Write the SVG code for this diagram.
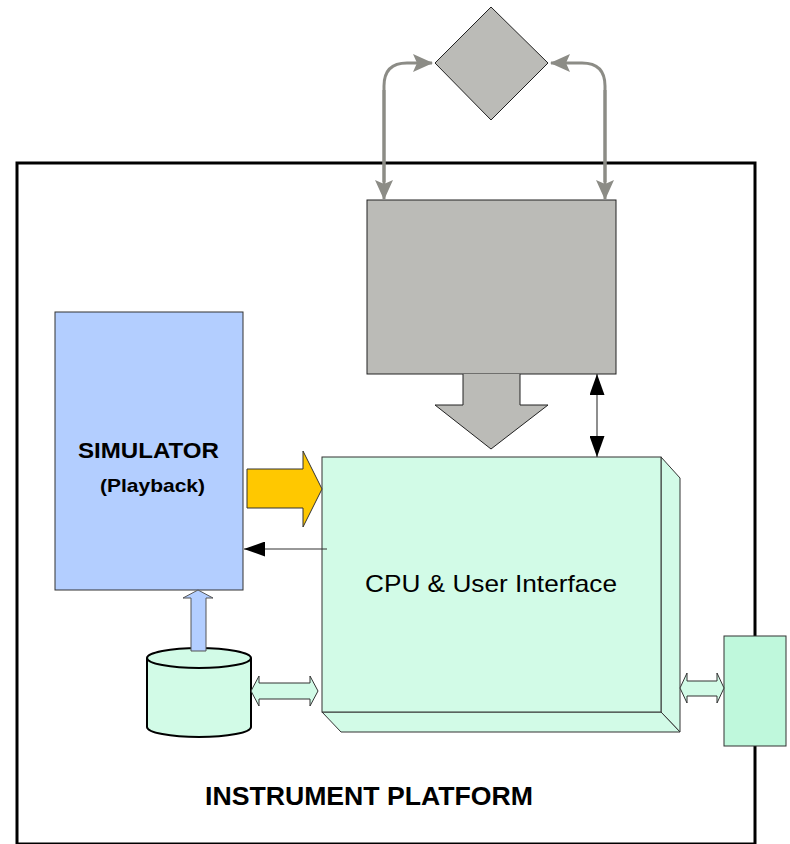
<svg xmlns="http://www.w3.org/2000/svg" width="790" height="844" viewBox="0 0 790 844">
  <style>
    .lbl { font-family: "Liberation Sans", Arial, sans-serif; fill: #000; }
    .bold { font-weight: bold; }
    .green { fill: #D2FBE7; stroke: #333; stroke-width: 1; }
    .gray { fill: #BBBBB7; stroke: #222; stroke-width: 1; }
    .gline { fill: none; stroke: #8C8C86; stroke-width: 3; }
  </style>
  <defs>
    <marker id="grayHead" markerUnits="userSpaceOnUse" viewBox="0 0 20 18" refX="19" refY="9" markerWidth="20" markerHeight="18" orient="auto">
      <path d="M0,0 L20,9 L0,18 L4,9 Z" fill="#8C8C86"/>
    </marker>
    <marker id="blackHead" markerUnits="userSpaceOnUse" viewBox="0 0 21 15" refX="21" refY="7.5" markerWidth="21" markerHeight="15" orient="auto-start-reverse">
      <path d="M0,0 L21,7.5 L0,15 Z" fill="#000"/>
    </marker>
  </defs>

  <!-- platform frame -->
  <g id="platform">
    <rect x="17" y="163" width="738" height="681" fill="#fff" stroke="#000" stroke-width="3"/>
    <text class="lbl bold" x="205" y="805" font-size="25" textLength="328" lengthAdjust="spacingAndGlyphs">INSTRUMENT PLATFORM</text>
  </g>

  <!-- external decision node -->
  <g id="decision">
    <polygon points="491,7 548,63 491,120 435,63" class="gray"/>
  </g>

  <!-- upper gray block -->
  <g id="gray-block">
    <rect x="367" y="200" width="249" height="174" class="gray"/>
  </g>

  <!-- simulator -->
  <g id="simulator">
    <rect x="55" y="312" width="188" height="278" fill="#B3CEFF" stroke="#333" stroke-width="1"/>
    <text class="lbl bold" x="78" y="458" font-size="22" textLength="141" lengthAdjust="spacingAndGlyphs">SIMULATOR</text>
    <text class="lbl bold" x="100" y="492" font-size="18.5" textLength="105" lengthAdjust="spacingAndGlyphs">(Playback)</text>
  </g>

  <!-- CPU block with depth -->
  <g id="cpu">
    <polygon points="661,457 680,478 680,732 661,712" class="green"/>
    <polygon points="322,712 661,712 680,732 341,732" class="green"/>
    <rect x="322" y="457" width="339" height="255" class="green"/>
    <text class="lbl" x="365" y="592" font-size="24" textLength="252" lengthAdjust="spacingAndGlyphs">CPU &amp; User Interface</text>
  </g>

  <!-- storage cylinder -->
  <g id="storage">
    <path d="M147,658 L147,727 A52,10 0 0 0 251,727 L251,658" fill="#D2FBE7" stroke="#000" stroke-width="2"/>
    <ellipse cx="199" cy="658" rx="52" ry="10" fill="#D2FBE7" stroke="#000" stroke-width="2"/>
  </g>

  <!-- external device -->
  <g id="device">
    <rect x="724" y="636" width="62" height="110" fill="#BFF8DC" stroke="#333" stroke-width="1"/>
  </g>

  <!-- connectors -->
  <g id="connectors">
    <path d="M384,182 L384,86 Q384,63 407,63 L432,63" class="gline" marker-end="url(#grayHead)"/>
    <path d="M384,90 L384,199" class="gline" marker-end="url(#grayHead)"/>
    <path d="M605,182 L605,86 Q605,63 582,63 L551,63" class="gline" marker-end="url(#grayHead)"/>
    <path d="M605,90 L605,199" class="gline" marker-end="url(#grayHead)"/>

    <!-- wide down arrow from gray block into CPU -->
    <polygon points="463,374 463,405 435,405 491,449 548,405 520,405 520,374" fill="#BBBBB7"/>
    <polyline points="463,374 463,405 435,405 491,449 548,405 520,405 520,374" fill="none" stroke="#222" stroke-width="1"/>

    <line x1="597" y1="374" x2="597" y2="457" stroke="#444" stroke-width="1.2" marker-start="url(#blackHead)" marker-end="url(#blackHead)"/>

    <polygon points="247,469 303,469 303,451 322,489 303,527 303,508 247,508" fill="#FFC800" stroke="#333" stroke-width="1"/>

    <line x1="327" y1="549" x2="244" y2="549" stroke="#333" stroke-width="1.2" marker-end="url(#blackHead)"/>

    <polygon points="191,651 191,598 183,598 198,590 213,598 206,598 206,651" fill="#B3CEFF" stroke="#555" stroke-width="1"/>

    <polygon points="251,691 259,676 259,683 310,683 310,676 318,691 310,706 310,699 259,699 259,706" fill="#D2FBE7" stroke="#333" stroke-width="1"/>
    <polygon points="680,688 687,673 687,681 717,681 717,673 724,688 717,703 717,696 687,696 687,703" fill="#D2FBE7" stroke="#333" stroke-width="1"/>
  </g>
</svg>
